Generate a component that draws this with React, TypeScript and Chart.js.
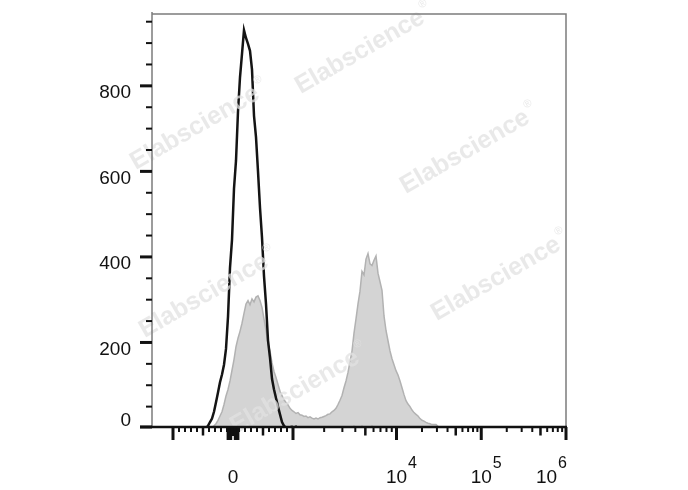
import React, { useEffect, useRef } from "react";
import { Chart, registerables } from "chart.js";

Chart.register(...registerables);

// ---------- axis definitions ----------
const Y_TICKS = [0, 200, 400, 600, 800];
const Y_MINOR_STEP = 50;
const Y_MAX = 968;

const X_LABELS = [
  { value: 0, base: "0", exp: "" },
  { value: 1e4, base: "10", exp: "4" },
  { value: 1e5, base: "10", exp: "5" },
  { value: 1e6, base: "10", exp: "6" },
];
const X_MAJOR = [-1e3, 1e3, 1e4, 1e5, 1e6];
const X_MEDIUM = [-500, 500, 5e3, 5e4, 5e5];

// biexponential display, expressed in histogram channels (0..207)
const CH_MAX = 207;
const ZERO_CH = 40.5;
const LIN_CH_PER_UNIT = 0.03;
const DECADE_CH = [51.75, 42.375, 42.375];

// ---------- histogram data (counts per channel) ----------
// unstained / isotype control (black line)
const BLACK_START_CH = 26;
const BLACK_COUNTS = [
  0, 0, 5, 14, 22, 38, 60, 83, 107, 125,
  148, 185, 260, 375, 440, 560, 625, 740, 820, 875,
  930, 912, 898, 882, 838, 730, 680, 600, 515, 445,
  355, 290, 205, 164, 115, 90, 70, 50, 32, 14,
  5, 1, 0, 2, 3, 1, 3, 0, 0, 0,
  0, 0, 0, 0, 0, 0, 0, 0, 0, 0,
  0, 0, 0, 0, 0, 0, 0, 0, 0, 0,
  0, 0, 0, 0, 0, 2, 0, 0, 0, 2,
  0, 0, 0, 0, 2, 0, 0,
];

// stained sample (grey filled)
const GRAY_START_CH = 29;
const GRAY_COUNTS = [
  0, 2, 5, 10, 18, 28, 38, 55, 75, 90,
  110, 135, 160, 190, 210, 226, 245, 268, 290, 298,
  288, 302, 295, 306, 309, 298, 282, 255, 228, 198,
  180, 152, 132, 118, 102, 86, 76, 66, 60, 54,
  46, 41, 38, 34, 36, 31, 30, 27, 28, 24,
  26, 23, 21, 23, 21, 24, 25, 27, 29, 32,
  33, 38, 41, 46, 55, 65, 76, 94, 110, 130,
  155, 180, 222, 255, 290, 320, 366, 358, 395, 408,
  384, 380, 392, 402, 362, 342, 322, 262, 228, 204,
  180, 162, 148, 134, 124, 110, 94, 78, 64, 56,
  50, 42, 36, 32, 28, 22, 18, 16, 13, 11,
  10, 8, 8, 8, 4, 1, 0,
];

const WATERMARK = "Elabscience";

function toChannel(v: number): number {
  if (v <= 1000) return ZERO_CH + v * LIN_CH_PER_UNIT;
  let ch = ZERO_CH + 1000 * LIN_CH_PER_UNIT;
  let lo = 1000;
  for (let i = 0; i < DECADE_CH.length; i++) {
    const hi = lo * 10;
    if (v <= hi) return ch + DECADE_CH[i] * Math.log10(v / lo);
    ch += DECADE_CH[i];
    lo = hi;
  }
  return ch;
}

function minorTickValues(): number[] {
  const out: number[] = [];
  for (let m = 1; m <= 9; m++) {
    if (m === 5) continue;
    out.push(m * 100, -m * 100);
  }
  for (const dec of [1e3, 1e4, 1e5]) {
    for (let m = 2; m <= 9; m++) {
      if (m === 5) continue;
      out.push(m * dec);
    }
  }
  return out;
}

const FONT = "'Liberation Sans', Arial, Helvetica, sans-serif";

const flowAxesPlugin = {
  id: "flowAxes",
  afterDatasetsDraw(chart: any) {
    const ctx = chart.ctx as CanvasRenderingContext2D;
    const spots = [
      [360, 52],
      [195, 128],
      [465, 152],
      [204, 296],
      [496, 279],
      [295, 392],
    ];
    ctx.save();
    for (const [cx, cy] of spots) {
      ctx.save();
      ctx.translate(cx, cy);
      ctx.rotate((-30 * Math.PI) / 180);
      ctx.font = `bold 25px ${FONT}`;
      ctx.fillStyle = "rgba(226,226,226,0.75)";
      ctx.textAlign = "center";
      ctx.textBaseline = "middle";
      ctx.fillText(WATERMARK, 0, 0);
      const w = ctx.measureText(WATERMARK).width;
      ctx.font = `11px ${FONT}`;
      ctx.textAlign = "left";
      ctx.fillText("\u00AE", w / 2 + 2, -10);
      ctx.restore();
    }
    ctx.restore();
  },
  afterDraw(chart: any) {
    const ctx = chart.ctx as CanvasRenderingContext2D;
    const xs = chart.scales.x;
    const ys = chart.scales.y;
    const { left, right, top, bottom } = chart.chartArea;
    ctx.save();

    // frame (grey, thin)
    ctx.strokeStyle = "#7c7c7c";
    ctx.lineWidth = 1.5;
    ctx.beginPath();
    ctx.moveTo(left, bottom);
    ctx.lineTo(left, top - 2);
    ctx.moveTo(left, top);
    ctx.lineTo(right, top);
    ctx.lineTo(right, bottom);
    ctx.stroke();

    const y0 = ys.getPixelForValue(0);
    const axisY = y0 - 1;

    // y minor ticks
    ctx.strokeStyle = "#111";
    for (let v = Y_MINOR_STEP; v < Y_MAX; v += Y_MINOR_STEP) {
      if (Y_TICKS.includes(v)) continue;
      const py = ys.getPixelForValue(v);
      ctx.lineWidth = 2;
      ctx.beginPath();
      ctx.moveTo(left - 6, py);
      ctx.lineTo(left, py);
      ctx.stroke();
    }
    // y major ticks + labels
    ctx.font = `19px ${FONT}`;
    ctx.fillStyle = "#111";
    ctx.textAlign = "right";
    ctx.textBaseline = "middle";
    for (const v of Y_TICKS) {
      const py = v === 0 ? axisY : ys.getPixelForValue(v);
      ctx.lineWidth = 3;
      ctx.beginPath();
      ctx.moveTo(left - 12, py);
      ctx.lineTo(left, py);
      ctx.stroke();
      ctx.fillText(String(v), left - 21, py + (v === 0 ? -6 : 7));
    }

    // bottom axis line
    ctx.lineWidth = 2.5;
    ctx.beginPath();
    ctx.moveTo(left - 12, axisY);
    ctx.lineTo(right + 1, axisY);
    ctx.stroke();

    const tick = (v: number, len: number, w: number) => {
      const px = xs.getPixelForValue(toChannel(v));
      ctx.lineWidth = w;
      ctx.beginPath();
      ctx.moveTo(px, axisY);
      ctx.lineTo(px, axisY + len);
      ctx.stroke();
    };
    for (const v of minorTickValues()) tick(v, 5, 2);
    for (const v of X_MEDIUM) tick(v, 8.5, 2.5);
    for (const v of X_MAJOR) tick(v, 13, 3);
    for (let v = -90; v <= 90; v += 10) tick(v, Math.abs(v) <= 20 ? 9 : 13, 2);

    // x labels with superscripts
    const baseY = 483;
    for (const lab of X_LABELS) {
      const px = xs.getPixelForValue(toChannel(lab.value));
      ctx.font = `19px ${FONT}`;
      const w1 = ctx.measureText(lab.base).width;
      ctx.font = `16px ${FONT}`;
      const w2 = lab.exp ? ctx.measureText(lab.exp).width + 1 : 0;
      let x0 = px - w1 / 2;
      if (x0 + w1 + w2 > right + 1) x0 = right + 1 - (w1 + w2);
      ctx.textAlign = "left";
      ctx.textBaseline = "alphabetic";
      ctx.font = `19px ${FONT}`;
      ctx.fillText(lab.base, x0, baseY);
      if (lab.exp) {
        ctx.font = `16px ${FONT}`;
        ctx.fillText(lab.exp, x0 + w1 + 1, baseY - 15);
      }
    }
    ctx.restore();
  },
};

export default function App() {
  const ref = useRef<HTMLCanvasElement | null>(null);

  useEffect(() => {
    if (!ref.current) return;
    const black = BLACK_COUNTS.map((c, i) => ({ x: BLACK_START_CH + i, y: c }));
    const gray = GRAY_COUNTS.map((c, i) => ({ x: GRAY_START_CH + i, y: c }));
    const chart = new Chart(ref.current, {
      type: "line",
      data: {
        datasets: [
          {
            label: "Control",
            data: black,
            borderColor: "#141414",
            borderWidth: 2.5,
            pointRadius: 0,
            fill: false,
            tension: 0,
          },
          {
            label: "Stained",
            data: gray,
            borderColor: "rgb(178,178,178)",
            backgroundColor: "rgb(212,212,212)",
            borderWidth: 1.5,
            pointRadius: 0,
            fill: "origin",
            tension: 0,
          },
        ],
      },
      options: {
        responsive: false,
        animation: false,
        layout: { padding: { left: 152, right: 122, top: 14, bottom: 62 } },
        scales: {
          x: { type: "linear", min: 0, max: CH_MAX, display: false },
          y: { type: "linear", min: 0, max: Y_MAX, display: false },
        },
        plugins: { legend: { display: false }, tooltip: { enabled: false } },
      },
      plugins: [flowAxesPlugin],
    });
    return () => chart.destroy();
  }, []);

  return (
    <div style={{ position: "absolute", left: 0, top: 0, width: 688, height: 490, background: "#fff" }}>
      <canvas ref={ref} width={688} height={490} style={{ display: "block" }} />
    </div>
  );
}
